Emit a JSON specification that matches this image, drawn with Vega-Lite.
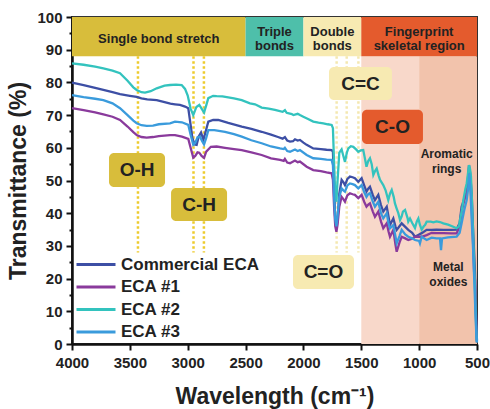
{
  "$schema": "https://vega.github.io/schema/vega-lite/v6.json",
  "width": 405,
  "height": 327,
  "autosize": {"type": "none"},
  "padding": {"left": 72, "top": 17, "right": 13, "bottom": 65},
  "background": "white",
  "config": {
    "font": "Liberation Sans",
    "view": {"stroke": "#333333", "strokeWidth": 2},
    "axis": {
      "grid": false,
      "domainColor": "#111111",
      "domainWidth": 2.5,
      "tickColor": "#111111",
      "tickWidth": 2,
      "labelFont": "Liberation Sans",
      "labelFontWeight": "bold",
      "labelFontSize": 15,
      "labelColor": "#222222",
      "titleFont": "Liberation Sans",
      "titleFontWeight": "bold",
      "titleFontSize": 23,
      "titleColor": "#222222",
      "labelFlush": false,
      "labelOverlap": false
    }
  },
  "resolve": {"axis": {"y": "independent"}},
  "datasets": {
    "spectra": [
      {"s": "Commercial ECA", "w": 4000, "t": 79.9}, {"s": "Commercial ECA", "w": 3900, "t": 79.2}, {"s": "Commercial ECA", "w": 3800, "t": 78.3}, {"s": "Commercial ECA", "w": 3729, "t": 77.7}, {"s": "Commercial ECA", "w": 3650, "t": 77.0}, {"s": "Commercial ECA", "w": 3585, "t": 76.4}, {"s": "Commercial ECA", "w": 3500, "t": 75.9}, {"s": "Commercial ECA", "w": 3441, "t": 75.6}, {"s": "Commercial ECA", "w": 3400, "t": 75.1}, {"s": "Commercial ECA", "w": 3350, "t": 74.8}, {"s": "Commercial ECA", "w": 3268, "t": 74.6}, {"s": "Commercial ECA", "w": 3200, "t": 74.0}, {"s": "Commercial ECA", "w": 3150, "t": 73.5}, {"s": "Commercial ECA", "w": 3110, "t": 73.3}, {"s": "Commercial ECA", "w": 3067, "t": 73.1}, {"s": "Commercial ECA", "w": 3023, "t": 72.6}, {"s": "Commercial ECA", "w": 2995, "t": 72.1}, {"s": "Commercial ECA", "w": 2975, "t": 67.0}, {"s": "Commercial ECA", "w": 2960, "t": 63.0}, {"s": "Commercial ECA", "w": 2940, "t": 61.0}, {"s": "Commercial ECA", "w": 2923, "t": 60.9}, {"s": "Commercial ECA", "w": 2905, "t": 63.5}, {"s": "Commercial ECA", "w": 2885, "t": 64.7}, {"s": "Commercial ECA", "w": 2875, "t": 63.6}, {"s": "Commercial ECA", "w": 2865, "t": 62.4}, {"s": "Commercial ECA", "w": 2845, "t": 65.0}, {"s": "Commercial ECA", "w": 2822, "t": 68.0}, {"s": "Commercial ECA", "w": 2780, "t": 68.5}, {"s": "Commercial ECA", "w": 2736, "t": 68.5}, {"s": "Commercial ECA", "w": 2650, "t": 67.6}, {"s": "Commercial ECA", "w": 2533, "t": 66.5}, {"s": "Commercial ECA", "w": 2450, "t": 65.8}, {"s": "Commercial ECA", "w": 2361, "t": 64.9}, {"s": "Commercial ECA", "w": 2280, "t": 64.0}, {"s": "Commercial ECA", "w": 2220, "t": 63.3}, {"s": "Commercial ECA", "w": 2180, "t": 62.8}, {"s": "Commercial ECA", "w": 2160, "t": 63.3}, {"s": "Commercial ECA", "w": 2140, "t": 62.2}, {"s": "Commercial ECA", "w": 2116, "t": 61.9}, {"s": "Commercial ECA", "w": 2090, "t": 62.0}, {"s": "Commercial ECA", "w": 2073, "t": 62.6}, {"s": "Commercial ECA", "w": 2050, "t": 62.2}, {"s": "Commercial ECA", "w": 2030, "t": 62.4}, {"s": "Commercial ECA", "w": 2000, "t": 61.6}, {"s": "Commercial ECA", "w": 1972, "t": 60.9}, {"s": "Commercial ECA", "w": 1915, "t": 59.8}, {"s": "Commercial ECA", "w": 1850, "t": 59.6}, {"s": "Commercial ECA", "w": 1800, "t": 59.4}, {"s": "Commercial ECA", "w": 1756, "t": 59.3}, {"s": "Commercial ECA", "w": 1745, "t": 58.8}, {"s": "Commercial ECA", "w": 1735, "t": 48.0}, {"s": "Commercial ECA", "w": 1725, "t": 38.0}, {"s": "Commercial ECA", "w": 1715, "t": 35.5}, {"s": "Commercial ECA", "w": 1705, "t": 38.0}, {"s": "Commercial ECA", "w": 1690, "t": 46.0}, {"s": "Commercial ECA", "w": 1670, "t": 50.2}, {"s": "Commercial ECA", "w": 1655, "t": 49.5}, {"s": "Commercial ECA", "w": 1641, "t": 48.6}, {"s": "Commercial ECA", "w": 1620, "t": 50.5}, {"s": "Commercial ECA", "w": 1598, "t": 51.2}, {"s": "Commercial ECA", "w": 1575, "t": 51.0}, {"s": "Commercial ECA", "w": 1555, "t": 50.7}, {"s": "Commercial ECA", "w": 1526, "t": 49.6}, {"s": "Commercial ECA", "w": 1497, "t": 50.7}, {"s": "Commercial ECA", "w": 1475, "t": 48.5}, {"s": "Commercial ECA", "w": 1455, "t": 46.6}, {"s": "Commercial ECA", "w": 1440, "t": 47.5}, {"s": "Commercial ECA", "w": 1425, "t": 48.1}, {"s": "Commercial ECA", "w": 1400, "t": 45.5}, {"s": "Commercial ECA", "w": 1382, "t": 44.0}, {"s": "Commercial ECA", "w": 1353, "t": 45.6}, {"s": "Commercial ECA", "w": 1330, "t": 42.5}, {"s": "Commercial ECA", "w": 1310, "t": 40.5}, {"s": "Commercial ECA", "w": 1280, "t": 42.0}, {"s": "Commercial ECA", "w": 1265, "t": 39.0}, {"s": "Commercial ECA", "w": 1252, "t": 36.4}, {"s": "Commercial ECA", "w": 1223, "t": 38.4}, {"s": "Commercial ECA", "w": 1205, "t": 36.0}, {"s": "Commercial ECA", "w": 1194, "t": 34.9}, {"s": "Commercial ECA", "w": 1170, "t": 36.0}, {"s": "Commercial ECA", "w": 1151, "t": 36.9}, {"s": "Commercial ECA", "w": 1120, "t": 35.8}, {"s": "Commercial ECA", "w": 1094, "t": 34.9}, {"s": "Commercial ECA", "w": 1060, "t": 34.0}, {"s": "Commercial ECA", "w": 1036, "t": 32.8}, {"s": "Commercial ECA", "w": 1000, "t": 33.5}, {"s": "Commercial ECA", "w": 978, "t": 33.9}, {"s": "Commercial ECA", "w": 935, "t": 34.9}, {"s": "Commercial ECA", "w": 892, "t": 34.9}, {"s": "Commercial ECA", "w": 850, "t": 35.0}, {"s": "Commercial ECA", "w": 791, "t": 34.9}, {"s": "Commercial ECA", "w": 720, "t": 34.9}, {"s": "Commercial ECA", "w": 676, "t": 35.0}, {"s": "Commercial ECA", "w": 650, "t": 37.0}, {"s": "Commercial ECA", "w": 633, "t": 42.0}, {"s": "Commercial ECA", "w": 604, "t": 45.0}, {"s": "Commercial ECA", "w": 585, "t": 48.0}, {"s": "Commercial ECA", "w": 575, "t": 52.0}, {"s": "Commercial ECA", "w": 569, "t": 54.7}, {"s": "Commercial ECA", "w": 560, "t": 52.5}, {"s": "Commercial ECA", "w": 546, "t": 46.0}, {"s": "Commercial ECA", "w": 535, "t": 36.0}, {"s": "Commercial ECA", "w": 525, "t": 28.0}, {"s": "Commercial ECA", "w": 517, "t": 21.7}, {"s": "Commercial ECA", "w": 510, "t": 11.0}, {"s": "Commercial ECA", "w": 503, "t": 3.4}, {"s": "Commercial ECA", "w": 500, "t": 1.0},

      {"s": "ECA #1", "w": 4000, "t": 72.1}, {"s": "ECA #1", "w": 3900, "t": 71.5}, {"s": "ECA #1", "w": 3800, "t": 70.8}, {"s": "ECA #1", "w": 3729, "t": 70.2}, {"s": "ECA #1", "w": 3650, "t": 69.5}, {"s": "ECA #1", "w": 3585, "t": 68.5}, {"s": "ECA #1", "w": 3520, "t": 66.5}, {"s": "ECA #1", "w": 3470, "t": 64.8}, {"s": "ECA #1", "w": 3441, "t": 63.9}, {"s": "ECA #1", "w": 3400, "t": 63.3}, {"s": "ECA #1", "w": 3355, "t": 63.1}, {"s": "ECA #1", "w": 3300, "t": 63.3}, {"s": "ECA #1", "w": 3250, "t": 63.6}, {"s": "ECA #1", "w": 3153, "t": 63.9}, {"s": "ECA #1", "w": 3110, "t": 63.9}, {"s": "ECA #1", "w": 3050, "t": 63.4}, {"s": "ECA #1", "w": 2995, "t": 62.7}, {"s": "ECA #1", "w": 2975, "t": 60.0}, {"s": "ECA #1", "w": 2952, "t": 57.0}, {"s": "ECA #1", "w": 2935, "t": 57.5}, {"s": "ECA #1", "w": 2915, "t": 58.6}, {"s": "ECA #1", "w": 2900, "t": 58.5}, {"s": "ECA #1", "w": 2880, "t": 57.5}, {"s": "ECA #1", "w": 2859, "t": 56.9}, {"s": "ECA #1", "w": 2840, "t": 58.8}, {"s": "ECA #1", "w": 2800, "t": 60.3}, {"s": "ECA #1", "w": 2750, "t": 60.4}, {"s": "ECA #1", "w": 2678, "t": 60.0}, {"s": "ECA #1", "w": 2600, "t": 59.6}, {"s": "ECA #1", "w": 2533, "t": 59.3}, {"s": "ECA #1", "w": 2450, "t": 58.6}, {"s": "ECA #1", "w": 2361, "t": 57.8}, {"s": "ECA #1", "w": 2280, "t": 56.8}, {"s": "ECA #1", "w": 2202, "t": 56.3}, {"s": "ECA #1", "w": 2170, "t": 56.0}, {"s": "ECA #1", "w": 2160, "t": 56.6}, {"s": "ECA #1", "w": 2140, "t": 55.5}, {"s": "ECA #1", "w": 2116, "t": 55.3}, {"s": "ECA #1", "w": 2073, "t": 56.1}, {"s": "ECA #1", "w": 2050, "t": 55.6}, {"s": "ECA #1", "w": 2030, "t": 55.8}, {"s": "ECA #1", "w": 1972, "t": 54.2}, {"s": "ECA #1", "w": 1915, "t": 53.2}, {"s": "ECA #1", "w": 1850, "t": 52.9}, {"s": "ECA #1", "w": 1800, "t": 52.5}, {"s": "ECA #1", "w": 1756, "t": 52.2}, {"s": "ECA #1", "w": 1745, "t": 50.2}, {"s": "ECA #1", "w": 1735, "t": 42.0}, {"s": "ECA #1", "w": 1725, "t": 36.0}, {"s": "ECA #1", "w": 1715, "t": 34.3}, {"s": "ECA #1", "w": 1705, "t": 36.5}, {"s": "ECA #1", "w": 1690, "t": 42.0}, {"s": "ECA #1", "w": 1670, "t": 45.0}, {"s": "ECA #1", "w": 1655, "t": 44.3}, {"s": "ECA #1", "w": 1641, "t": 43.5}, {"s": "ECA #1", "w": 1620, "t": 45.5}, {"s": "ECA #1", "w": 1598, "t": 46.1}, {"s": "ECA #1", "w": 1575, "t": 45.8}, {"s": "ECA #1", "w": 1555, "t": 45.6}, {"s": "ECA #1", "w": 1526, "t": 44.6}, {"s": "ECA #1", "w": 1497, "t": 45.6}, {"s": "ECA #1", "w": 1475, "t": 43.5}, {"s": "ECA #1", "w": 1455, "t": 42.0}, {"s": "ECA #1", "w": 1440, "t": 42.6}, {"s": "ECA #1", "w": 1425, "t": 43.0}, {"s": "ECA #1", "w": 1400, "t": 40.5}, {"s": "ECA #1", "w": 1382, "t": 38.9}, {"s": "ECA #1", "w": 1353, "t": 40.5}, {"s": "ECA #1", "w": 1330, "t": 37.5}, {"s": "ECA #1", "w": 1310, "t": 35.4}, {"s": "ECA #1", "w": 1280, "t": 36.9}, {"s": "ECA #1", "w": 1265, "t": 34.5}, {"s": "ECA #1", "w": 1252, "t": 32.8}, {"s": "ECA #1", "w": 1223, "t": 34.9}, {"s": "ECA #1", "w": 1205, "t": 30.5}, {"s": "ECA #1", "w": 1194, "t": 28.2}, {"s": "ECA #1", "w": 1170, "t": 31.0}, {"s": "ECA #1", "w": 1151, "t": 32.8}, {"s": "ECA #1", "w": 1120, "t": 32.3}, {"s": "ECA #1", "w": 1094, "t": 31.8}, {"s": "ECA #1", "w": 1060, "t": 32.2}, {"s": "ECA #1", "w": 1036, "t": 32.8}, {"s": "ECA #1", "w": 1000, "t": 32.8}, {"s": "ECA #1", "w": 978, "t": 32.8}, {"s": "ECA #1", "w": 935, "t": 33.3}, {"s": "ECA #1", "w": 892, "t": 34.0}, {"s": "ECA #1", "w": 850, "t": 33.9}, {"s": "ECA #1", "w": 791, "t": 33.9}, {"s": "ECA #1", "w": 720, "t": 33.8}, {"s": "ECA #1", "w": 676, "t": 33.8}, {"s": "ECA #1", "w": 650, "t": 36.0}, {"s": "ECA #1", "w": 633, "t": 40.5}, {"s": "ECA #1", "w": 610, "t": 44.0}, {"s": "ECA #1", "w": 589, "t": 46.1}, {"s": "ECA #1", "w": 575, "t": 50.0}, {"s": "ECA #1", "w": 567, "t": 53.2}, {"s": "ECA #1", "w": 558, "t": 50.0}, {"s": "ECA #1", "w": 546, "t": 42.0}, {"s": "ECA #1", "w": 535, "t": 32.0}, {"s": "ECA #1", "w": 525, "t": 22.0}, {"s": "ECA #1", "w": 517, "t": 19.6}, {"s": "ECA #1", "w": 510, "t": 10.0}, {"s": "ECA #1", "w": 503, "t": 1.2}, {"s": "ECA #1", "w": 500, "t": 0.5},

      {"s": "ECA #2", "w": 4000, "t": 85.8}, {"s": "ECA #2", "w": 3900, "t": 85.4}, {"s": "ECA #2", "w": 3800, "t": 84.8}, {"s": "ECA #2", "w": 3729, "t": 84.3}, {"s": "ECA #2", "w": 3650, "t": 83.6}, {"s": "ECA #2", "w": 3585, "t": 82.8}, {"s": "ECA #2", "w": 3520, "t": 80.5}, {"s": "ECA #2", "w": 3470, "t": 78.5}, {"s": "ECA #2", "w": 3441, "t": 77.7}, {"s": "ECA #2", "w": 3400, "t": 77.0}, {"s": "ECA #2", "w": 3369, "t": 76.9}, {"s": "ECA #2", "w": 3320, "t": 77.3}, {"s": "ECA #2", "w": 3268, "t": 78.2}, {"s": "ECA #2", "w": 3200, "t": 79.0}, {"s": "ECA #2", "w": 3153, "t": 79.2}, {"s": "ECA #2", "w": 3100, "t": 79.3}, {"s": "ECA #2", "w": 3052, "t": 79.2}, {"s": "ECA #2", "w": 3023, "t": 78.0}, {"s": "ECA #2", "w": 3000, "t": 76.0}, {"s": "ECA #2", "w": 2975, "t": 72.0}, {"s": "ECA #2", "w": 2952, "t": 70.0}, {"s": "ECA #2", "w": 2925, "t": 72.5}, {"s": "ECA #2", "w": 2900, "t": 73.1}, {"s": "ECA #2", "w": 2880, "t": 72.0}, {"s": "ECA #2", "w": 2859, "t": 70.8}, {"s": "ECA #2", "w": 2840, "t": 73.0}, {"s": "ECA #2", "w": 2822, "t": 75.2}, {"s": "ECA #2", "w": 2780, "t": 75.9}, {"s": "ECA #2", "w": 2750, "t": 75.8}, {"s": "ECA #2", "w": 2700, "t": 75.7}, {"s": "ECA #2", "w": 2650, "t": 75.4}, {"s": "ECA #2", "w": 2600, "t": 75.1}, {"s": "ECA #2", "w": 2533, "t": 74.6}, {"s": "ECA #2", "w": 2462, "t": 73.6}, {"s": "ECA #2", "w": 2418, "t": 73.3}, {"s": "ECA #2", "w": 2361, "t": 72.3}, {"s": "ECA #2", "w": 2300, "t": 72.0}, {"s": "ECA #2", "w": 2246, "t": 71.6}, {"s": "ECA #2", "w": 2180, "t": 71.0}, {"s": "ECA #2", "w": 2160, "t": 71.5}, {"s": "ECA #2", "w": 2145, "t": 70.7}, {"s": "ECA #2", "w": 2100, "t": 70.3}, {"s": "ECA #2", "w": 2087, "t": 70.0}, {"s": "ECA #2", "w": 2050, "t": 70.4}, {"s": "ECA #2", "w": 2030, "t": 70.0}, {"s": "ECA #2", "w": 2001, "t": 69.5}, {"s": "ECA #2", "w": 1960, "t": 68.8}, {"s": "ECA #2", "w": 1915, "t": 68.0}, {"s": "ECA #2", "w": 1870, "t": 67.7}, {"s": "ECA #2", "w": 1828, "t": 67.5}, {"s": "ECA #2", "w": 1790, "t": 67.2}, {"s": "ECA #2", "w": 1756, "t": 67.0}, {"s": "ECA #2", "w": 1745, "t": 66.0}, {"s": "ECA #2", "w": 1735, "t": 55.0}, {"s": "ECA #2", "w": 1725, "t": 46.0}, {"s": "ECA #2", "w": 1715, "t": 43.5}, {"s": "ECA #2", "w": 1705, "t": 50.0}, {"s": "ECA #2", "w": 1690, "t": 58.5}, {"s": "ECA #2", "w": 1670, "t": 59.5}, {"s": "ECA #2", "w": 1655, "t": 57.5}, {"s": "ECA #2", "w": 1641, "t": 55.7}, {"s": "ECA #2", "w": 1625, "t": 58.5}, {"s": "ECA #2", "w": 1612, "t": 59.8}, {"s": "ECA #2", "w": 1590, "t": 60.5}, {"s": "ECA #2", "w": 1569, "t": 60.3}, {"s": "ECA #2", "w": 1545, "t": 59.5}, {"s": "ECA #2", "w": 1526, "t": 58.8}, {"s": "ECA #2", "w": 1505, "t": 59.2}, {"s": "ECA #2", "w": 1483, "t": 59.3}, {"s": "ECA #2", "w": 1470, "t": 57.0}, {"s": "ECA #2", "w": 1455, "t": 54.2}, {"s": "ECA #2", "w": 1440, "t": 56.0}, {"s": "ECA #2", "w": 1425, "t": 56.8}, {"s": "ECA #2", "w": 1410, "t": 55.0}, {"s": "ECA #2", "w": 1396, "t": 51.7}, {"s": "ECA #2", "w": 1380, "t": 53.0}, {"s": "ECA #2", "w": 1367, "t": 53.7}, {"s": "ECA #2", "w": 1350, "t": 51.5}, {"s": "ECA #2", "w": 1338, "t": 50.2}, {"s": "ECA #2", "w": 1310, "t": 48.6}, {"s": "ECA #2", "w": 1290, "t": 47.0}, {"s": "ECA #2", "w": 1267, "t": 44.0}, {"s": "ECA #2", "w": 1252, "t": 46.0}, {"s": "ECA #2", "w": 1237, "t": 47.1}, {"s": "ECA #2", "w": 1220, "t": 45.0}, {"s": "ECA #2", "w": 1209, "t": 43.0}, {"s": "ECA #2", "w": 1195, "t": 41.5}, {"s": "ECA #2", "w": 1180, "t": 40.0}, {"s": "ECA #2", "w": 1165, "t": 37.9}, {"s": "ECA #2", "w": 1151, "t": 39.0}, {"s": "ECA #2", "w": 1140, "t": 40.5}, {"s": "ECA #2", "w": 1122, "t": 41.0}, {"s": "ECA #2", "w": 1100, "t": 38.5}, {"s": "ECA #2", "w": 1094, "t": 37.4}, {"s": "ECA #2", "w": 1079, "t": 38.4}, {"s": "ECA #2", "w": 1060, "t": 37.0}, {"s": "ECA #2", "w": 1036, "t": 35.5}, {"s": "ECA #2", "w": 1020, "t": 37.5}, {"s": "ECA #2", "w": 1007, "t": 38.4}, {"s": "ECA #2", "w": 993, "t": 36.4}, {"s": "ECA #2", "w": 978, "t": 35.0}, {"s": "ECA #2", "w": 960, "t": 36.0}, {"s": "ECA #2", "w": 949, "t": 36.4}, {"s": "ECA #2", "w": 935, "t": 37.4}, {"s": "ECA #2", "w": 900, "t": 37.4}, {"s": "ECA #2", "w": 877, "t": 37.2}, {"s": "ECA #2", "w": 850, "t": 37.5}, {"s": "ECA #2", "w": 820, "t": 37.3}, {"s": "ECA #2", "w": 791, "t": 36.9}, {"s": "ECA #2", "w": 750, "t": 36.5}, {"s": "ECA #2", "w": 700, "t": 35.8}, {"s": "ECA #2", "w": 676, "t": 35.4}, {"s": "ECA #2", "w": 655, "t": 36.0}, {"s": "ECA #2", "w": 647, "t": 37.9}, {"s": "ECA #2", "w": 630, "t": 41.0}, {"s": "ECA #2", "w": 618, "t": 44.0}, {"s": "ECA #2", "w": 600, "t": 47.5}, {"s": "ECA #2", "w": 589, "t": 49.1}, {"s": "ECA #2", "w": 575, "t": 53.0}, {"s": "ECA #2", "w": 569, "t": 54.7}, {"s": "ECA #2", "w": 560, "t": 53.5}, {"s": "ECA #2", "w": 552, "t": 51.2}, {"s": "ECA #2", "w": 545, "t": 45.0}, {"s": "ECA #2", "w": 537, "t": 37.0}, {"s": "ECA #2", "w": 527, "t": 27.0}, {"s": "ECA #2", "w": 517, "t": 16.5}, {"s": "ECA #2", "w": 510, "t": 8.0}, {"s": "ECA #2", "w": 503, "t": 1.2}, {"s": "ECA #2", "w": 500, "t": 0.5},

      {"s": "ECA #3", "w": 4000, "t": 76.1}, {"s": "ECA #3", "w": 3900, "t": 75.5}, {"s": "ECA #3", "w": 3800, "t": 75.0}, {"s": "ECA #3", "w": 3729, "t": 74.6}, {"s": "ECA #3", "w": 3650, "t": 73.6}, {"s": "ECA #3", "w": 3585, "t": 72.1}, {"s": "ECA #3", "w": 3520, "t": 70.0}, {"s": "ECA #3", "w": 3470, "t": 68.3}, {"s": "ECA #3", "w": 3441, "t": 67.5}, {"s": "ECA #3", "w": 3400, "t": 66.9}, {"s": "ECA #3", "w": 3355, "t": 66.7}, {"s": "ECA #3", "w": 3300, "t": 66.8}, {"s": "ECA #3", "w": 3250, "t": 67.2}, {"s": "ECA #3", "w": 3153, "t": 67.5}, {"s": "ECA #3", "w": 3110, "t": 68.0}, {"s": "ECA #3", "w": 3050, "t": 67.8}, {"s": "ECA #3", "w": 2995, "t": 67.0}, {"s": "ECA #3", "w": 2975, "t": 64.0}, {"s": "ECA #3", "w": 2952, "t": 60.9}, {"s": "ECA #3", "w": 2935, "t": 61.5}, {"s": "ECA #3", "w": 2915, "t": 63.2}, {"s": "ECA #3", "w": 2894, "t": 63.4}, {"s": "ECA #3", "w": 2875, "t": 62.0}, {"s": "ECA #3", "w": 2859, "t": 61.0}, {"s": "ECA #3", "w": 2840, "t": 63.0}, {"s": "ECA #3", "w": 2822, "t": 65.4}, {"s": "ECA #3", "w": 2770, "t": 65.4}, {"s": "ECA #3", "w": 2678, "t": 64.9}, {"s": "ECA #3", "w": 2600, "t": 64.2}, {"s": "ECA #3", "w": 2533, "t": 63.4}, {"s": "ECA #3", "w": 2450, "t": 62.3}, {"s": "ECA #3", "w": 2361, "t": 61.4}, {"s": "ECA #3", "w": 2280, "t": 60.4}, {"s": "ECA #3", "w": 2202, "t": 59.8}, {"s": "ECA #3", "w": 2170, "t": 59.6}, {"s": "ECA #3", "w": 2160, "t": 60.0}, {"s": "ECA #3", "w": 2140, "t": 59.0}, {"s": "ECA #3", "w": 2116, "t": 58.8}, {"s": "ECA #3", "w": 2073, "t": 59.5}, {"s": "ECA #3", "w": 2050, "t": 59.0}, {"s": "ECA #3", "w": 2030, "t": 59.3}, {"s": "ECA #3", "w": 1972, "t": 57.8}, {"s": "ECA #3", "w": 1915, "t": 56.8}, {"s": "ECA #3", "w": 1850, "t": 56.6}, {"s": "ECA #3", "w": 1800, "t": 56.4}, {"s": "ECA #3", "w": 1756, "t": 56.3}, {"s": "ECA #3", "w": 1745, "t": 54.7}, {"s": "ECA #3", "w": 1735, "t": 45.0}, {"s": "ECA #3", "w": 1725, "t": 38.0}, {"s": "ECA #3", "w": 1715, "t": 36.0}, {"s": "ECA #3", "w": 1705, "t": 39.0}, {"s": "ECA #3", "w": 1690, "t": 45.0}, {"s": "ECA #3", "w": 1670, "t": 47.6}, {"s": "ECA #3", "w": 1655, "t": 47.0}, {"s": "ECA #3", "w": 1641, "t": 46.6}, {"s": "ECA #3", "w": 1620, "t": 48.5}, {"s": "ECA #3", "w": 1598, "t": 49.1}, {"s": "ECA #3", "w": 1575, "t": 48.9}, {"s": "ECA #3", "w": 1555, "t": 48.6}, {"s": "ECA #3", "w": 1526, "t": 47.6}, {"s": "ECA #3", "w": 1497, "t": 48.6}, {"s": "ECA #3", "w": 1475, "t": 46.5}, {"s": "ECA #3", "w": 1455, "t": 45.0}, {"s": "ECA #3", "w": 1440, "t": 45.8}, {"s": "ECA #3", "w": 1425, "t": 46.1}, {"s": "ECA #3", "w": 1400, "t": 43.5}, {"s": "ECA #3", "w": 1382, "t": 42.0}, {"s": "ECA #3", "w": 1353, "t": 43.5}, {"s": "ECA #3", "w": 1330, "t": 40.0}, {"s": "ECA #3", "w": 1310, "t": 38.4}, {"s": "ECA #3", "w": 1280, "t": 40.0}, {"s": "ECA #3", "w": 1265, "t": 37.0}, {"s": "ECA #3", "w": 1252, "t": 35.4}, {"s": "ECA #3", "w": 1223, "t": 36.4}, {"s": "ECA #3", "w": 1205, "t": 33.0}, {"s": "ECA #3", "w": 1194, "t": 30.8}, {"s": "ECA #3", "w": 1170, "t": 33.0}, {"s": "ECA #3", "w": 1151, "t": 34.9}, {"s": "ECA #3", "w": 1120, "t": 33.5}, {"s": "ECA #3", "w": 1094, "t": 32.8}, {"s": "ECA #3", "w": 1060, "t": 32.3}, {"s": "ECA #3", "w": 1036, "t": 31.8}, {"s": "ECA #3", "w": 1000, "t": 31.5}, {"s": "ECA #3", "w": 993, "t": 30.8}, {"s": "ECA #3", "w": 978, "t": 32.8}, {"s": "ECA #3", "w": 935, "t": 31.8}, {"s": "ECA #3", "w": 892, "t": 32.5}, {"s": "ECA #3", "w": 850, "t": 32.3}, {"s": "ECA #3", "w": 820, "t": 32.3}, {"s": "ECA #3", "w": 811, "t": 28.7}, {"s": "ECA #3", "w": 802, "t": 32.3}, {"s": "ECA #3", "w": 750, "t": 32.6}, {"s": "ECA #3", "w": 676, "t": 32.8}, {"s": "ECA #3", "w": 650, "t": 34.0}, {"s": "ECA #3", "w": 633, "t": 36.9}, {"s": "ECA #3", "w": 610, "t": 41.0}, {"s": "ECA #3", "w": 589, "t": 44.0}, {"s": "ECA #3", "w": 575, "t": 48.0}, {"s": "ECA #3", "w": 567, "t": 52.2}, {"s": "ECA #3", "w": 558, "t": 48.0}, {"s": "ECA #3", "w": 546, "t": 38.0}, {"s": "ECA #3", "w": 535, "t": 30.0}, {"s": "ECA #3", "w": 526, "t": 21.7}, {"s": "ECA #3", "w": 515, "t": 11.0}, {"s": "ECA #3", "w": 505, "t": 2.0}, {"s": "ECA #3", "w": 500, "t": 0.5}
    ]
  },
  "layer": [
    {
      "data": {"values": [
        {"a": 1500, "b": 1000, "lo": 0, "hi": 88, "c": "#F8D8CA"},
        {"a": 1000, "b": 500, "lo": 0, "hi": 88, "c": "#F2C3AC"}
      ]},
      "mark": {"type": "rect"},
      "encoding": {
        "x": {"field": "a", "type": "quantitative", "scale": {"domain": [500, 4000], "reverse": true, "nice": false, "zero": false},
              "axis": {"values": [4000, 3750, 3500, 3250, 3000, 2750, 2500, 2250, 2000, 1750, 1500, 1250, 1000, 750, 500],
                       "labelExpr": "datum.value % 500 === 0 ? format(datum.value, 'd') : ''",
                       "labelOverlap": false, "labelFlush": false,
                       "tickSize": {"condition": {"test": "datum.value % 500 === 0", "value": 6}, "value": 3},
                       "labelPadding": 5, "title": "Wavelength (cm⁻¹)", "titlePadding": 15}},
        "x2": {"field": "b"},
        "y": {"field": "lo", "type": "quantitative", "scale": {"domain": [0, 100], "nice": false},
              "axis": {"orient": "left", "values": [0, 10, 20, 30, 40, 50, 60, 70, 80, 90, 100], "format": "d",
                       "labelOverlap": false, "labelFlush": false, "tickSize": 6,
                       "labelPadding": 4, "title": "Transmittance (%)", "titlePadding": 6}},
        "y2": {"field": "hi"},
        "fill": {"field": "c", "type": "nominal", "scale": null}
      }
    },
    {
      "data": {"values": [
        {"a": 4000, "b": 2500, "c": "#D8BD3B"},
        {"a": 2500, "b": 2000, "c": "#4EBFAA"},
        {"a": 2000, "b": 1500, "c": "#F7EAB2"},
        {"a": 1500, "b": 500, "c": "#E45B2D"}
      ]},
      "mark": {"type": "rect"},
      "encoding": {
        "x": {"field": "a", "type": "quantitative"},
        "x2": {"field": "b"},
        "y": {"datum": 88, "type": "quantitative",
              "axis": {"orient": "left", "values": [5, 15, 25, 35, 45, 55, 65, 75, 85, 95], "labels": false, "domain": false, "tickSize": 3, "title": null, "offset": 0}},
        "y2": {"datum": 100},
        "fill": {"field": "c", "type": "nominal", "scale": null}
      }
    },
    {
      "data": {"values": [
        {"w": 3250, "t": 93.3, "label": "Single bond stretch"},
        {"w": 2250, "t": 95.5, "label": "Triple\nbonds"},
        {"w": 1750, "t": 95.5, "label": "Double\nbonds"},
        {"w": 1000, "t": 95.5, "label": "Fingerprint\nskeletal region"}
      ]},
      "mark": {"type": "text", "font": "Liberation Sans", "fontWeight": "bold", "fontSize": 13, "color": "#222222", "lineBreak": "\n", "lineHeight": 14.5, "baseline": "middle", "align": "center"},
      "encoding": {
        "x": {"field": "w", "type": "quantitative"},
        "y": {"field": "t", "type": "quantitative", "axis": null},
        "text": {"field": "label"}
      }
    },
    {
      "data": {"values": [{"w": 3430}, {"w": 2950}, {"w": 2860}]},
      "mark": {"type": "rule", "color": "#EDCB2E", "strokeWidth": 2.5, "strokeDash": [2.5, 2.5]},
      "encoding": {
        "x": {"field": "w", "type": "quantitative"},
        "y": {"datum": 88, "type": "quantitative", "axis": null},
        "y2": {"datum": 28}
      }
    },
    {
      "data": {"values": [{"w": 1713}, {"w": 1626}, {"w": 1525}]},
      "mark": {"type": "rule", "color": "#F4E8B0", "strokeWidth": 2.5, "strokeDash": [2.5, 2.5]},
      "encoding": {
        "x": {"field": "w", "type": "quantitative"},
        "y": {"datum": 88, "type": "quantitative", "axis": null},
        "y2": {"datum": 28}
      }
    },
    {
      "data": {"name": "spectra"},
      "mark": {"type": "line", "strokeWidth": 2.3, "interpolate": "linear"},
      "encoding": {
        "x": {"field": "w", "type": "quantitative"},
        "y": {"field": "t", "type": "quantitative", "axis": null},
        "color": {"field": "s", "type": "nominal",
          "scale": {"domain": ["Commercial ECA", "ECA #1", "ECA #2", "ECA #3"], "range": ["#3D4FA5", "#8A3A9C", "#33C3BE", "#3A9BDC"]},
          "legend": {"orient": "none", "legendX": 3, "legendY": 239, "title": null, "symbolType": "stroke", "symbolSize": 1521, "symbolStrokeWidth": 3,
                     "labelFont": "Liberation Sans", "labelFontWeight": "bold", "labelFontSize": 17, "labelColor": "#222222",
                     "clipHeight": 17, "rowPadding": 4.5, "labelOffset": 4, "padding": 0}}
      }
    },
    {
      "data": {"values": [
        {"a": 3680, "b": 3196, "lo": 48.0, "hi": 58.4, "c": "#D8BD3B"},
        {"a": 3144, "b": 2660, "lo": 37.6, "hi": 47.7, "c": "#D8BD3B"},
        {"a": 1779, "b": 1235, "lo": 74.6, "hi": 84.7, "c": "#F7EAB2"},
        {"a": 1494, "b": 967, "lo": 61.2, "hi": 71.6, "c": "#E45B2D"},
        {"a": 2090, "b": 1563, "lo": 16.8, "hi": 27.2, "c": "#F7EAB2"}
      ]},
      "mark": {"type": "rect", "cornerRadius": 5},
      "encoding": {
        "x": {"field": "a", "type": "quantitative"},
        "x2": {"field": "b"},
        "y": {"field": "lo", "type": "quantitative", "axis": null},
        "y2": {"field": "hi"},
        "fill": {"field": "c", "type": "nominal", "scale": null}
      }
    },
    {
      "data": {"values": [
        {"w": 3438, "t": 53.2, "label": "O-H"},
        {"w": 2902, "t": 42.6, "label": "C-H"},
        {"w": 1507, "t": 79.6, "label": "C=C"},
        {"w": 1230, "t": 66.4, "label": "C-O"},
        {"w": 1827, "t": 22.0, "label": "C=O"}
      ]},
      "mark": {"type": "text", "font": "Liberation Sans", "fontWeight": "bold", "fontSize": 19, "color": "#222222", "baseline": "middle", "align": "center"},
      "encoding": {
        "x": {"field": "w", "type": "quantitative"},
        "y": {"field": "t", "type": "quantitative", "axis": null},
        "text": {"field": "label"}
      }
    },
    {
      "data": {"values": [
        {"w": 762, "t": 58.2, "label": "Aromatic\nrings"},
        {"w": 748, "t": 23.4, "label": "Metal\noxides"}
      ]},
      "mark": {"type": "text", "font": "Liberation Sans", "fontWeight": "bold", "fontSize": 12, "color": "#222222", "lineBreak": "\n", "lineHeight": 15, "baseline": "middle", "align": "center"},
      "encoding": {
        "x": {"field": "w", "type": "quantitative"},
        "y": {"field": "t", "type": "quantitative", "axis": null},
        "text": {"field": "label"}
      }
    }
  ]
}
